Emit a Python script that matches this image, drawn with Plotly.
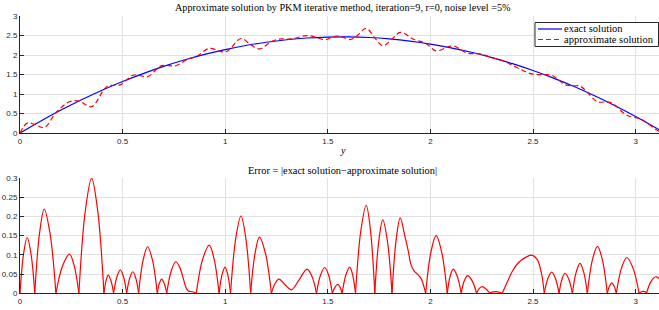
import plotly.graph_objects as go

# ---- data ----
# exact solution (top panel, blue)
y_exact = [0, 0.1, 0.2, 0.3, 0.4, 0.5, 0.6, 0.7, 0.8, 0.9, 1.0, 1.1, 1.2, 1.3, 1.4, 1.5,
           1.6, 1.7, 1.8, 1.9, 2.0, 2.1, 2.2, 2.3, 2.4, 2.5, 2.6, 2.7, 2.8, 2.9, 3.0, 3.1, 3.114]
u_exact = [0, 0.304, 0.588, 0.852, 1.097, 1.321, 1.525, 1.709, 1.873, 2.017, 2.142, 2.246,
           2.330, 2.394, 2.438, 2.462, 2.467, 2.451, 2.415, 2.359, 2.283, 2.187, 2.072, 1.936,
           1.780, 1.604, 1.408, 1.192, 0.956, 0.701, 0.425, 0.129, 0.086]

# approximate solution (top panel, red dashed)
y_approx = [0, 0.035, 0.072, 0.118, 0.175, 0.241, 0.287, 0.349, 0.409, 0.430, 0.456, 0.489,
            0.520, 0.550, 0.578, 0.622, 0.669, 0.690, 0.715, 0.759, 0.820, 0.859, 0.922, 0.970,
            0.999, 1.026, 1.077, 1.124, 1.167, 1.225, 1.262, 1.323, 1.399, 1.445, 1.485, 1.522,
            1.549, 1.570, 1.607, 1.635, 1.687, 1.729, 1.768, 1.813, 1.853, 1.920, 1.977, 2.028,
            2.082, 2.111, 2.150, 2.181, 2.225, 2.250, 2.290, 2.350, 2.494, 2.555, 2.591, 2.627,
            2.656, 2.692, 2.729, 2.765, 2.814, 2.862, 2.884, 2.906, 2.957, 3.017, 3.038, 3.053,
            3.098, 3.114]
u_approx = [0, 0.254, 0.221, 0.138, 0.519, 0.801, 0.819, 0.675, 1.118, 1.213, 1.225, 1.236,
            1.363, 1.481, 1.482, 1.446, 1.654, 1.729, 1.735, 1.726, 1.899, 1.961, 2.171, 2.106,
            2.072, 2.171, 2.425, 2.268, 2.158, 2.348, 2.409, 2.415, 2.501, 2.452, 2.393, 2.465,
            2.490, 2.467, 2.398, 2.463, 2.683, 2.442, 2.238, 2.409, 2.584, 2.400, 2.302, 2.108,
            2.206, 2.239, 2.132, 2.049, 2.039, 2.023, 1.950, 1.860, 1.516, 1.499, 1.482, 1.352,
            1.238, 1.210, 1.204, 1.041, 0.800, 0.800, 0.770, 0.685, 0.453, 0.376, 0.320, 0.271,
            0.092, 0.048]

# error |exact - approximate| (bottom panel, red)
y_err = [0.000, 0.0175, 0.035, 0.0535, 0.072, 0.095, 0.118, 0.1465, 0.175, 0.208, 0.241, 0.264,
         0.287, 0.318, 0.349, 0.379, 0.409, 0.4195, 0.430, 0.443, 0.456, 0.4725, 0.489, 0.5045,
         0.520, 0.535, 0.550, 0.564, 0.578, 0.600, 0.622, 0.6455, 0.669, 0.6795, 0.690, 0.7025,
         0.715, 0.737, 0.759, 0.778, 0.795, 0.808, 0.820, 0.840, 0.859, 0.8905, 0.922, 0.946,
         0.970, 0.9845, 0.999, 1.0125, 1.026, 1.0515, 1.077, 1.1005, 1.124, 1.1455, 1.167, 1.196,
         1.225, 1.2435, 1.262, 1.292, 1.323, 1.360, 1.399, 1.422, 1.445, 1.465, 1.485, 1.5035,
         1.522, 1.5355, 1.549, 1.5595, 1.570, 1.5885, 1.607, 1.621, 1.635, 1.661, 1.687, 1.708,
         1.729, 1.7485, 1.768, 1.7905, 1.813, 1.833, 1.853, 1.875, 1.892, 1.905, 1.920, 1.940,
         1.955, 1.967, 1.977, 2.0025, 2.028, 2.055, 2.082, 2.0965, 2.111, 2.1305, 2.150, 2.1655,
         2.181, 2.203, 2.225, 2.2375, 2.250, 2.270, 2.290, 2.300, 2.320, 2.340, 2.350, 2.360,
         2.375, 2.400, 2.430, 2.460, 2.494, 2.520, 2.540, 2.555, 2.573, 2.591, 2.609, 2.627,
         2.6415, 2.656, 2.674, 2.692, 2.7105, 2.729, 2.747, 2.765, 2.7895, 2.814, 2.838, 2.862,
         2.873, 2.884, 2.895, 2.906, 2.9315, 2.957, 2.987, 3.017, 3.0275, 3.038, 3.0455, 3.053,
         3.0755, 3.098, 3.114]
err = [0, 0.103, 0.145, 0.103, 0, 0.155, 0.219, 0.155, 0, 0.072, 0.102, 0.072,
       0, 0.213, 0.299, 0.213, 0, 0.033, 0.047, 0.033, 0, 0.043, 0.061, 0.043,
       0, 0.040, 0.056, 0.040, 0, 0.086, 0.121, 0.086, 0, 0.026, 0.037, 0.026,
       0, 0.058, 0.082, 0.068, 0.040, 0.016, 0.006, 0.004, 0, 0.089, 0.125, 0.089,
       0, 0.048, 0.068, 0.048, 0, 0.143, 0.201, 0.143, 0, 0.104, 0.146, 0.104,
       0, 0.026, 0.037, 0.022, 0.009, 0.035, 0.063, 0.045, 0, 0.048, 0.067, 0.048,
       0, 0.016, 0.023, 0.016, 0, 0.048, 0.068, 0.048, 0, 0.163, 0.229, 0.163,
       0, 0.136, 0.191, 0.136, 0, 0.139, 0.196, 0.150, 0.110, 0.075, 0.058, 0.048,
       0.038, 0.020, 0, 0.107, 0.150, 0.107, 0, 0.045, 0.063, 0.045, 0, 0.033,
       0.046, 0.033, 0, 0.012, 0.017, 0.012, 0, 0.003, 0.004, 0.002, 0, 0.012,
       0.030, 0.058, 0.080, 0.092, 0.099, 0.088, 0.055, 0, 0.039, 0.055, 0.039, 0,
       0.037, 0.052, 0.037, 0, 0.055, 0.078, 0.055, 0, 0.087, 0.122, 0.087, 0,
       0.019, 0.027, 0.019, 0, 0.066, 0.093, 0.066, 0, 0.004, 0.005, 0.004, 0,
       0.031, 0.043, 0.038]

x_ticks = [0, 0.5, 1, 1.5, 2, 2.5, 3]
x_tick_labels = ["0", "0.5", "1", "1.5", "2", "2.5", "3"]
top_ticks = [0, 0.5, 1, 1.5, 2, 2.5, 3]
top_tick_labels = ["0", "0.5", "1", "1.5", "2", "2.5", "3"]
bot_ticks = [0, 0.05, 0.1, 0.15, 0.2, 0.25, 0.3]
bot_tick_labels = ["0", "0.05", "0.1", "0.15", "0.2", "0.25", "0.3"]

legend_names = ["exact solution", "approximate solution"]
title_top = "Approximate solution by PKM iterative method, iteration=9, r=0, noise level =5%"
title_bot = "Error = |exact solution\u2212approximate solution|"

# split the error curve at its zeros so each lobe is smoothed separately (sharp cusps)
ex, ey = [], []
for i, (a, b) in enumerate(zip(y_err, err)):
    ex.append(a)
    ey.append(b)
    if b == 0 and 0 < i < len(y_err) - 1:
        ex.extend([None, a])
        ey.extend([None, b])

SERIF = "Liberation Serif"
SANS = "Liberation Sans"
AX = "#262626"
GRID = "#e1e1e1"
BLUE = "#0000ff"
RED = "#ff0000"
DASH = "5px,3px"

fig = go.Figure()
fig.add_trace(go.Scatter(x=y_exact, y=u_exact, mode="lines", name=legend_names[0],
                         showlegend=False,
                         line=dict(color=BLUE, width=1.2, shape="spline"),
                         xaxis="x", yaxis="y"))
fig.add_trace(go.Scatter(x=y_approx, y=u_approx, mode="lines", name=legend_names[1],
                         showlegend=False,
                         line=dict(color=RED, width=1.2, dash=DASH, shape="spline",
                                   smoothing=1.0),
                         xaxis="x", yaxis="y"))
fig.add_trace(go.Scatter(x=ex, y=ey, mode="lines", showlegend=False,
                         line=dict(color=RED, width=1.2, shape="spline", smoothing=1.0),
                         connectgaps=False, xaxis="x2", yaxis="y2"))

axis_common = dict(showline=True, linecolor=AX, linewidth=1, ticks="inside", ticklen=4,
                   tickcolor=AX, tickwidth=1, showgrid=True, gridcolor=GRID, gridwidth=1,
                   zeroline=False, tickfont=dict(family=SANS, size=8, color=AX), mirror=False,
                   automargin=False)

# compact legend box (top-right of upper panel), in paper coordinates
W, H = 659.0, 310.0
L = 20.0
def px(xp):
    return (xp - L) / (W - L)
def py(yp):
    return (H - yp) / H

shapes = [
    dict(type="rect", xref="paper", yref="paper", x0=px(535), x1=px(658.5), y0=py(46.5),
         y1=py(22.5), line=dict(color=AX, width=1), fillcolor="white", layer="above"),
    dict(type="line", xref="paper", yref="paper", x0=px(538), x1=px(562), y0=py(29),
         y1=py(29), line=dict(color=BLUE, width=1.2), layer="above"),
    dict(type="line", xref="paper", yref="paper", x0=px(538), x1=px(562), y0=py(39.5),
         y1=py(39.5), line=dict(color=RED, width=1.2, dash=DASH), layer="above"),
]

fig.update_layout(
    width=659, height=310,
    margin=dict(l=20, r=0, t=0, b=0),
    paper_bgcolor="white", plot_bgcolor="white",
    xaxis=dict(domain=[0, 1], anchor="y", range=[0, 3.114], tickvals=x_ticks,
               ticktext=x_tick_labels, **axis_common),
    yaxis=dict(domain=[0.571, 0.948], anchor="x", range=[0, 3], tickvals=top_ticks,
               ticktext=top_tick_labels, **axis_common),
    xaxis2=dict(domain=[0, 1], anchor="y2", range=[0, 3.114], tickvals=x_ticks,
                ticktext=x_tick_labels, **axis_common),
    yaxis2=dict(domain=[0.054, 0.426], anchor="x2", range=[0, 0.3], tickvals=bot_ticks,
                ticktext=bot_tick_labels, **axis_common),
    showlegend=False,
    shapes=shapes,
    annotations=[
        dict(text=title_top, xref="paper", yref="paper", x=0.505, y=0.977, showarrow=False,
             xanchor="center", yanchor="middle", font=dict(family=SERIF, size=10.2, color="#000")),
        dict(text=title_bot, xref="paper", yref="paper", x=0.505, y=0.449, showarrow=False,
             xanchor="center", yanchor="middle", font=dict(family=SERIF, size=10.4, color="#000")),
        dict(text="<i>y</i>", xref="paper", yref="paper", x=0.505, y=0.516, showarrow=False,
             xanchor="center", yanchor="middle", font=dict(family=SERIF, size=10, color="#000")),
        dict(text=legend_names[0], xref="paper", yref="paper", x=px(564), y=py(29),
             showarrow=False, xanchor="left", yanchor="middle", xshift=-2,
             font=dict(family=SERIF, size=10.5, color="#000")),
        dict(text=legend_names[1], xref="paper", yref="paper", x=px(564), y=py(39.5),
             showarrow=False, xanchor="left", yanchor="middle", xshift=-2,
             font=dict(family=SERIF, size=10.5, color="#000")),
    ],
)

fig.write_html("out.html", config={"displayModeBar": False},
               post_script="document.body.style.margin='0';")
